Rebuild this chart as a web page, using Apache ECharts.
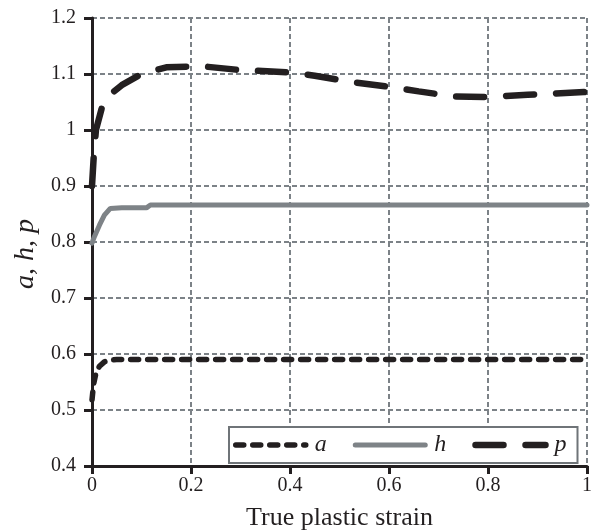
<!DOCTYPE html>
<html>
<head>
<meta charset="utf-8">
<script src="https://cdn.jsdelivr.net/npm/echarts@6/dist/echarts.min.js"></script>
<style>html,body{margin:0;padding:0;background:#fff}#c{width:597px;height:531px}</style>
</head>
<body>
<div id="c"></div>
<script>
// strain values (x) and series values (y)
var aX = [0, 0.003, 0.008, 0.015, 0.025, 0.035, 0.05, 0.1, 0.3, 0.6, 1.0];
var aY = [0.518, 0.545, 0.566, 0.578, 0.586, 0.589, 0.59, 0.59, 0.59, 0.59, 0.59];
var hX = [0, 0.005, 0.015, 0.025, 0.037, 0.06, 0.11, 0.118, 0.3, 0.6, 1.0];
var hY = [0.798, 0.81, 0.83, 0.848, 0.86, 0.861, 0.861, 0.866, 0.866, 0.866, 0.866];
var pX = [0, 0.004, 0.008, 0.02, 0.035, 0.06, 0.1, 0.15, 0.22, 0.3, 0.4, 0.45, 0.53, 0.6, 0.66, 0.73, 0.8, 0.88, 1.0];
var pY = [0.9, 0.96, 1.0, 1.04, 1.062, 1.08, 1.1, 1.112, 1.114, 1.107, 1.103, 1.097, 1.085, 1.077, 1.069, 1.06, 1.059, 1.063, 1.068];
var xTicks = [0, 0.2, 0.4, 0.6, 0.8, 1];
var yTicks = [0.4, 0.5, 0.6, 0.7, 0.8, 0.9, 1, 1.1, 1.2];
var names = ['a', 'h', 'p'];

function pairs(xs, ys) { return xs.map(function (x, i) { return [x, ys[i]]; }); }

var SERIF = 'Liberation Serif';
var BLACK = '#231f20';
var GRAY = '#7e8387';
var GRID = '#7c8287';

var chart = echarts.init(document.getElementById('c'), null, {renderer: 'canvas'});
chart.setOption({
  animation: false,
  backgroundColor: '#fff',
  grid: {left: 92, right: 10, top: 18, bottom: 65, containLabel: false, outerBoundsMode: 'none'},
  xAxis: {
    type: 'value', min: xTicks[0], max: xTicks[xTicks.length - 1], interval: 0.2,
    name: 'True plastic strain', nameLocation: 'middle', nameGap: 39,
    nameTextStyle: {fontFamily: SERIF, fontSize: 26, color: '#231f20'},
    axisLine: {show: true, onZero: false, lineStyle: {color: BLACK, width: 3}},
    axisTick: {show: true, inside: false, length: 8, lineStyle: {color: BLACK, width: 3}},
    axisLabel: {fontFamily: SERIF, fontSize: 20, color: '#231f20', margin: 10,
      formatter: function (v) { return String(+v.toFixed(1)); }},
    splitLine: {show: true, lineStyle: {color: GRID, width: 2, type: [5, 3]}}
  },
  yAxis: {
    type: 'value', min: yTicks[0], max: yTicks[yTicks.length - 1], interval: 0.1,
    name: 'a, h, p', nameLocation: 'middle', nameGap: 52,
    nameTextStyle: {fontFamily: SERIF, fontSize: 28, fontStyle: 'italic', color: '#231f20', padding: [0, 24, 0, 0]},
    axisLine: {show: true, onZero: false, lineStyle: {color: BLACK, width: 3}},
    axisTick: {show: true, inside: false, length: 8, lineStyle: {color: BLACK, width: 3}},
    axisLabel: {fontFamily: SERIF, fontSize: 20, color: '#231f20', margin: 16,
      formatter: function (v) { return String(+v.toFixed(1)); }},
    splitLine: {show: true, lineStyle: {color: GRID, width: 2, type: [5, 3]}}
  },
  legend: {
    show: true, left: 229, top: 427, orient: 'horizontal',
    data: names,
    itemWidth: 70, itemHeight: 14, itemGap: 26,
    padding: [6, 11, 6, 4],
    backgroundColor: '#fff', borderColor: '#6f7478', borderWidth: 2,
    itemStyle: {opacity: 0},
    lineStyle: {width: 'inherit', type: 'inherit', cap: 'round'},
    textStyle: {fontFamily: SERIF, fontSize: 24, fontStyle: 'italic', color: '#231f20', padding: [0, 0, 0, 4]}
  },
  series: [
    {name: names[0], type: 'line', data: pairs(aX, aY), showSymbol: false, symbol: 'none', z: 3,
      lineStyle: {color: BLACK, width: 5.5, type: [8, 9], cap: 'round'}, itemStyle: {color: BLACK}},
    {name: names[1], type: 'line', data: pairs(hX, hY), showSymbol: false, symbol: 'none', z: 2,
      lineStyle: {color: GRAY, width: 5, type: 'solid', cap: 'round'}, itemStyle: {color: GRAY}},
    {name: names[2], type: 'line', data: pairs(pX, pY), showSymbol: false, symbol: 'none', z: 3,
      lineStyle: {color: BLACK, width: 6.5, type: [28, 22], cap: 'round'}, itemStyle: {color: BLACK}}
  ]
});
</script>
</body>
</html>
